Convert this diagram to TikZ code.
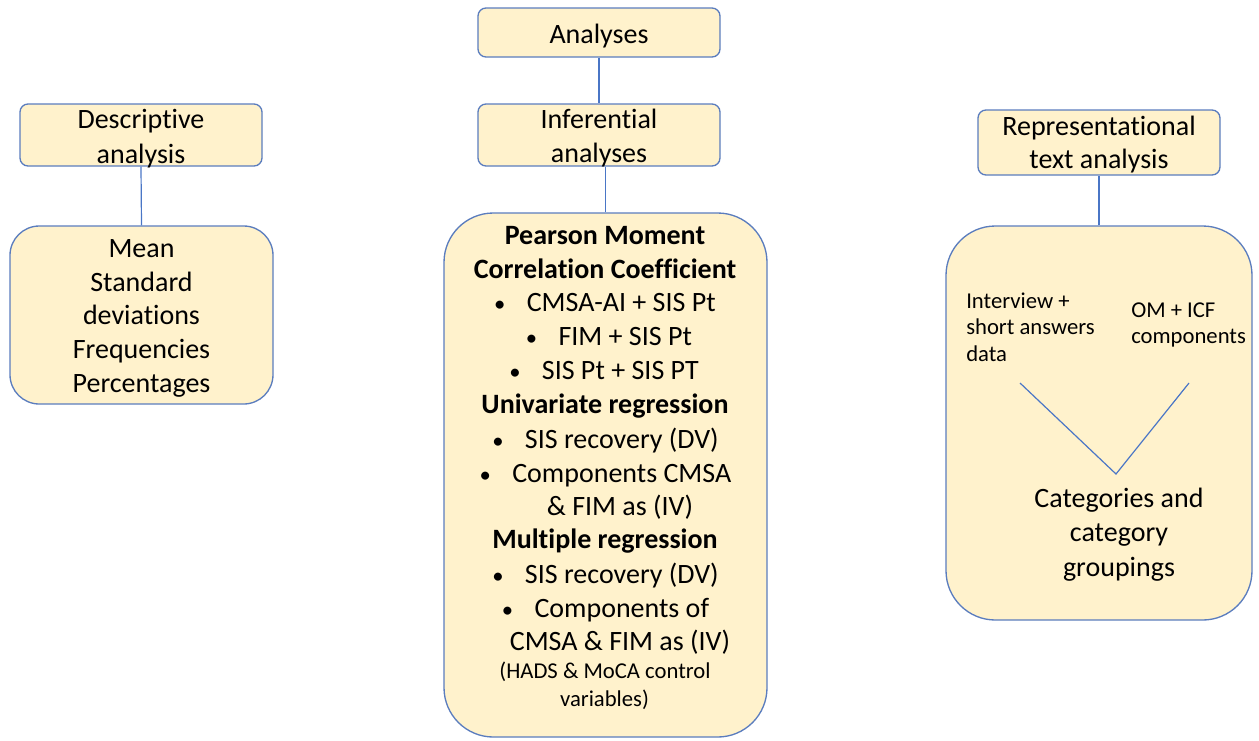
\documentclass[tikz,border=0pt]{standalone}
\usepackage{fontspec}
\setmainfont{Carlito}[Ligatures=NoCommon]
\definecolor{boxfill}{HTML}{FFF2CC}
\definecolor{boxline}{HTML}{5B7DBE}
\definecolor{connline}{HTML}{4A76C6}
\newcommand\mybul{{\fontsize{17}{20}\selectfont\textbullet}\hspace{16pt}}
\begin{document}
\begin{tikzpicture}[x=0.75pt,y=-0.75pt,
  box/.style={draw=boxline, fill=boxfill, line width=1pt, inner sep=0pt},
  hdr/.style={box, rounded corners=6pt, minimum width=181.5pt, minimum height=46.5pt},
  txt/.style={anchor=base, inner sep=0pt, font=\fontsize{21}{25.5}\selectfont},
  btxt/.style={anchor=base, inner sep=0pt, font=\fontsize{21}{25.5}\selectfont\bfseries},
  stxt/.style={anchor=base, inner sep=0pt, font=\fontsize{17}{20}\selectfont},
  ltxt/.style={anchor=base west, inner sep=0pt, font=\fontsize{17}{20}\selectfont},
  connector/.style={draw=connline, line width=0.9pt}]
\useasboundingbox (0,0) rectangle (1259,740);

% header boxes
\node[hdr, minimum height=36.75pt] (analyses) at (599,32.5) {};
\node[hdr] (infer) at (599,135) {};
\node[hdr] (desc) at (141,135) {};
\node[hdr, minimum width=181.5pt, minimum height=48.75pt] (repr) at (1099,142.5) {};

% content boxes
\node[box, rounded corners=22pt, minimum width=197.25pt, minimum height=133.5pt] (stats) at (141.5,315) {};
\node[box, rounded corners=37pt, minimum width=242.25pt, minimum height=393pt] (infbox) at (605.5,475) {};
\node[box, rounded corners=37pt, minimum width=229.5pt, minimum height=295.5pt] (textbox) at (1099,423) {};

% connectors
\draw[connector] (analyses.south) -- (infer.north);
\draw[connector] (infbox.north) -- (infbox.north |- infer.south);
\draw[connector] (desc.south) -- (stats.north);
\draw[connector] (textbox.north) -- (textbox.north |- repr.south);

% header texts
\node[txt] (a1) at (599,43) {Analyses};
\node[txt] (i1) at (599,128) {Inferential};
\node[txt] (i2) at (599,162) {analyses};
\node[txt] (d1) at (141,128) {Descriptive};
\node[txt] (d2) at (141,163) {analysis};
\node[txt] (p1) at (1099,135) {Representational};
\node[txt] (p2) at (1099,168) {text analysis};

% descriptive content
\node[txt] (s1) at (141.5,257) {Mean};
\node[txt] (s2) at (141.5,291) {Standard};
\node[txt] (s3) at (141.5,324) {deviations};
\node[txt] (s4) at (141.5,358) {Frequencies};
\node[txt] (s5) at (141.5,392) {Percentages};

% inferential content
\node[btxt] (t1) at (605,244) {Pearson Moment};
\node[btxt] (t2) at (605,278) {Correlation Coefficient};
\node[txt] (t3) at (605,311) {\mybul CMSA-AI + SIS Pt};
\node[txt] (t4) at (609,345) {\mybul FIM + SIS Pt};
\node[txt] (t5) at (604,379) {\mybul SIS Pt + SIS PT};
\node[btxt] (t6) at (605,413) {Univariate regression};
\node[txt] (t7) at (605.5,448) {\mybul SIS recovery (DV)};
\node[txt] (t8) at (605.5,482) {\mybul Components CMSA};
\node[txt] (t9) at (620,515) {\& FIM as (IV)};
\node[btxt] (t10) at (605,548) {Multiple regression};
\node[txt] (t11) at (605.5,583) {\mybul SIS recovery (DV)};
\node[txt] (t12) at (605.5,617) {\mybul Components of};
\node[txt] (t13) at (620,650) {CMSA \& FIM as (IV)};
\node[stxt] (t14) at (605,678) {(HADS \& MoCA control};
\node[stxt] (t15) at (604.5,706) {variables)};

% text analysis content
\node[ltxt] (r1) at (966,308) {Interview +};
\node[ltxt] (r2) at (966,334) {short answers};
\node[ltxt] (r3) at (966,361) {data};
\node[ltxt] (r4) at (1131,317) {OM + ICF};
\node[ltxt] (r5) at (1131,343) {components};
\coordinate (vl) at (1020,383);
\coordinate (vb) at (1116,474);
\coordinate (vr) at (1189,383);
\draw[connector] (vl) -- (vb) -- (vr);
\node[txt] (c1) at (1119,507) {Categories and};
\node[txt] (c2) at (1119,541) {category};
\node[txt] (c3) at (1119,576) {groupings};
\end{tikzpicture}
\end{document}
